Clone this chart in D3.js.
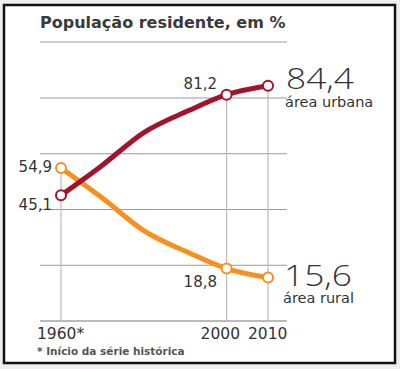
<!DOCTYPE html>
<html><head><meta charset="utf-8">
<script src="https://cdn.jsdelivr.net/npm/d3@7"></script>
<style>html,body{margin:0;padding:0;background:#eeeeee;}svg{display:block;}</style>
</head><body><svg id="c" width="400" height="369"></svg>
<script>
const years = [1960, 1970, 1980, 1991, 2000, 2010];
const urbana = [45.1, 55.9, 67.6, 75.6, 81.2, 84.4];
const rural = [54.9, 44.1, 32.4, 24.4, 18.8, 15.6];
const gridValues = [0, 20, 40, 60, 80];
const tickYears = [1960, 2000, 2010];
const tickLabels = ["1960*", "2000", "2010"];

const svg = d3.select("#c");
const font = "'DejaVu Sans', sans-serif";
const ink = "#333333";
const cUrb = "#a3132b", cRur = "#f7901e";

svg.append("rect").attr("x", 4).attr("y", 5).attr("width", 391).attr("height", 358)
  .attr("fill", "#fff").attr("stroke", "#111").attr("stroke-width", 2.5);

const x = d3.scaleLinear().domain([1960, 2010]).range([61, 268]);
const y = d3.scaleLinear().domain([0, 80]).range([321, 98]);

// title
svg.append("text").attr("x", 40).attr("y", 28).text("População residente, em %")
  .attr("font-family", font).attr("font-weight", 700).attr("font-size", 16).attr("fill", "#3a3a3a");
svg.append("line").attr("x1", 40).attr("x2", 287).attr("y1", 42).attr("y2", 42)
  .attr("stroke", "#999").attr("stroke-width", 1);

// horizontal grid
svg.append("g").selectAll("line").data(gridValues).join("line")
  .attr("x1", 40).attr("x2", 287).attr("y1", d => y(d)).attr("y2", d => y(d))
  .attr("stroke", d => d === 0 ? "#777" : "#999").attr("stroke-width", 1);

// vertical drop lines
const vIdx = [0, 4, 5];
svg.append("g").selectAll("line").data(vIdx).join("line")
  .attr("x1", i => x(years[i])).attr("x2", i => x(years[i]))
  .attr("y1", i => y(Math.max(urbana[i], rural[i])))
  .attr("y2", y(0)).attr("stroke", "#bbb").attr("stroke-width", 1.2);

const line = d3.line().x((d, i) => x(years[i])).y(d => y(d)).curve(d3.curveMonotoneX);
svg.append("path").datum(rural).attr("d", line).attr("fill", "none")
  .attr("stroke", cRur).attr("stroke-width", 5).attr("stroke-linejoin", "round");
svg.append("path").datum(urbana).attr("d", line).attr("fill", "none")
  .attr("stroke", cUrb).attr("stroke-width", 5).attr("stroke-linejoin", "round");

// markers
[[urbana, cUrb], [rural, cRur]].forEach(([s, c]) => {
  svg.append("g").selectAll("circle").data(vIdx).join("circle")
    .attr("cx", i => x(years[i])).attr("cy", i => y(s[i])).attr("r", 5)
    .attr("fill", "#fff").attr("stroke", c).attr("stroke-width", 2);
});

function t(xp, yp, txt, size, anchor, weight) {
  return svg.append("text").attr("x", xp).attr("y", yp).text(txt)
    .attr("font-family", font).attr("font-size", size).attr("fill", ink)
    .attr("text-anchor", anchor || "start").attr("font-weight", weight || 400);
}
const fmt = v => String(v).replace(".", ",");
// value labels
t(52, 172, fmt(rural[0]), 15, "end");
t(52, 210, fmt(urbana[0]), 15, "end");
t(217, 89, fmt(urbana[4]), 15, "end");
t(217, 287, fmt(rural[4]), 15, "end");
t(286, 89, fmt(urbana[5]), 30, "start", 300).attr("font-family", "'Open Sans', sans-serif")
  .attr("textLength", 68).attr("lengthAdjust", "spacingAndGlyphs");
t(285, 107, "área urbana", 14.5);
t(284, 286, fmt(rural[5]), 30, "start", 300).attr("font-family", "'Open Sans', sans-serif")
  .attr("textLength", 68).attr("lengthAdjust", "spacingAndGlyphs");
t(283, 303, "área rural", 14.5);

// year labels
const yearAnchor = ["start", "end", "start"];
const yearX = [37, 240, 248];
svg.append("g").selectAll("text").data(tickYears).join("text")
  .attr("x", (d, i) => yearX[i]).attr("y", 339)
  .attr("text-anchor", (d, i) => yearAnchor[i])
  .text((d, i) => tickLabels[i])
  .attr("font-family", font).attr("font-size", 15.5).attr("fill", ink);

svg.append("text").attr("x", 37).attr("y", 355).text("* Início da série histórica")
  .attr("font-family", font).attr("font-size", 10.5).attr("font-weight", 700).attr("fill", "#555");
</script></body></html>
